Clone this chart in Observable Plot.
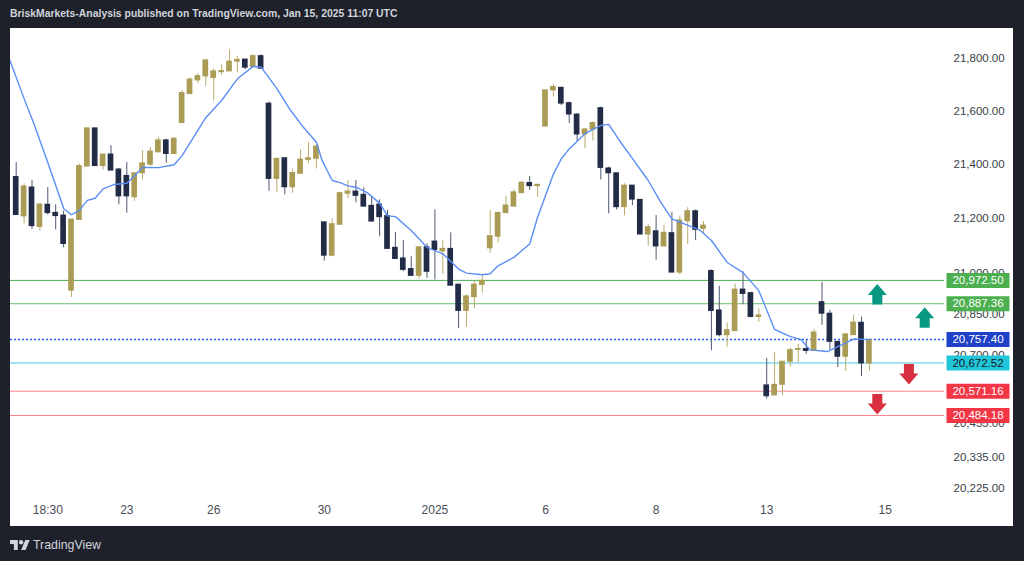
<!DOCTYPE html>
<html><head><meta charset="utf-8">
<script src="https://cdn.jsdelivr.net/npm/d3@7"></script>
<script src="https://cdn.jsdelivr.net/npm/@observablehq/plot@0.6"></script>
<style>
html,body{margin:0;padding:0;background:#1e212a;width:1024px;height:561px;overflow:hidden;font-family:"Liberation Sans",Arial,sans-serif}
#header{position:absolute;left:10px;top:6px;color:#d1d4dc;font-size:12px;font-weight:bold;white-space:nowrap;line-height:16px}
#panel{position:absolute;left:10px;top:28px;width:1003px;height:498px;background:#fff;}
#footer{position:absolute;left:10px;top:537px;height:16px;display:flex;align-items:center;color:#d1d4dc;font-size:14px;white-space:nowrap}
#footer svg{margin-right:3px}
</style></head><body>
<div id="header">BriskMarkets-Analysis published on TradingView.com, Jan 15, 2025 11:07 UTC</div>
<div id="panel"></div>
<div id="footer"><svg width="20" height="10" viewBox="0 4 36 18"><path fill="#d1d4dc" d="M14 22H7V11H0V4h14v18zM28 22h-8l7.5-18h8L28 22z"/><circle fill="#d1d4dc" cx="20" cy="8" r="4"/></svg><span id="tvtext">TradingView</span></div>
<script>
// ---- data ----
const opens = [21354,21208,21315,21169,21251,21221,21211,20935,21195,21393,21536,21395,21438,21382,21358,21279,21368,21400,21446,21491,21440,21556,21665,21717,21732,21726,21748,21751,21788,21796,21767,21809,21629,21347,21424,21316,21366,21418,21422,21186,21063,21177,21292,21300,21288,21247,21252,21209,21092,21053,21014,20989,21094,21115,21079,21088,20957,20861,20911,20956,21090,21133,21220,21244,21294,21332,21320,21543,21679,21689,21631,21588,21513,21531,21612,21386,21368,21242,21322,21269,21141,21153,21097,21146,21001,21190,21227,21162,21007,20863,20773,20788,20939,20926,20839,20592,20556,20594,20677,20720,20723,20716,20893,20851,20749,20695,20773,20818,20671];
const highs = [21408,21329,21341,21254,21315,21251,21227,21197,21403,21536,21536,21438,21471,21386,21408,21370,21453,21463,21503,21495,21501,21679,21727,21742,21793,21761,21776,21833,21808,21796,21814,21814,21635,21422,21426,21384,21455,21484,21484,21186,21199,21297,21341,21341,21314,21279,21269,21230,21149,21119,21059,21096,21106,21232,21119,21147,20957,20920,20971,20989,21230,21221,21282,21306,21338,21356,21325,21679,21701,21689,21635,21591,21535,21560,21616,21390,21368,21329,21322,21269,21178,21211,21174,21223,21209,21240,21232,21189,21011,20951,20818,20959,21004,20929,20869,20689,20710,20677,20725,20740,20755,20794,20965,20863,20749,20779,20845,20839,20761];
const lows = [21213,21180,21160,21154,21213,21158,21092,20910,21195,21393,21395,21380,21378,21251,21220,21264,21344,21394,21446,21405,21440,21556,21665,21705,21694,21639,21736,21751,21746,21757,21767,21761,21301,21297,21288,21294,21366,21406,21384,21043,21059,21177,21273,21258,21244,21186,21133,21088,21051,21005,20989,20977,20980,20974,20995,20953,20797,20801,20869,20926,21072,21109,21220,21244,21294,21304,21279,21539,21654,21622,21554,21487,21459,21488,21343,21217,21232,21210,21248,21141,21097,21047,21097,21001,20993,21104,21119,21143,20717,20767,20729,20788,20884,20836,20819,20543,20556,20556,20657,20671,20704,20716,20809,20719,20656,20642,20773,20624,20642];
const closes = [21213,21319,21172,21252,21220,21209,21106,21196,21395,21536,21395,21438,21378,21282,21282,21368,21405,21449,21491,21440,21497,21669,21720,21733,21793,21751,21752,21788,21795,21765,21809,21761,21347,21422,21316,21369,21419,21424,21468,21063,21179,21294,21300,21284,21244,21189,21205,21088,21051,21011,20989,21094,21004,21084,21088,20953,20861,20914,20957,20971,21135,21221,21248,21297,21333,21320,21325,21679,21692,21629,21588,21513,21532,21556,21388,21368,21242,21322,21270,21141,21168,21097,21147,21001,21193,21227,21158,21174,20861,20773,20791,20939,20923,20839,20845,20553,20594,20677,20719,20723,20716,20783,20851,20749,20695,20776,20819,20671,20755];

const maIndex = [0,2,3.23,4.92,7.03,8,9,10,11,12,13.35,15,16,17,19,21,22,25,27,29,31,32,34,35.72,37.41,39,39.73,41,42,43,44,45.43,47,48,49,51,53,55,57,58,60,61,62,64,66,67,69,70,71,73,75,76,77.5,79.2,81,82.6,84,85.5,87.6,89,91,93,95,97,99,100.28,101.5,103.66,105,107,109];
const maValues = [21809,21648,21554,21415,21236,21214,21230,21267,21275,21310,21326,21331,21359,21390,21389,21400,21434,21576,21641,21723,21770,21767,21686,21604,21538,21484,21415,21341,21333,21321,21316,21296,21257,21210,21207,21156,21094,21070,21014,20999,20993,20997,21026,21057,21106,21205,21365,21422,21459,21516,21547,21551,21484,21415,21341,21260,21199,21181,21156,21119,21038,21001,20935,20794,20768,20758,20720,20714,20732,20759,20757];

const yTickValues = [21800,21600,21400,21200,21000,20850,20700,20455,20335,20225];
const xTickIndex = [5,15,26,40,54,68,82,96,111];
const xTickLabels = ["18:30","23","26","30","2025","6","8","13","15"];

const levelValues = [20972.50,20887.36,20757.40,20672.52,20571.16,20484.18];
const arrowIndex = [110,116,114,110];
const arrowPrices = [20921,20836,20633,20525];
const arrowDirections = ["up","up","down","down"];

// ---- styles ----
const GOLD = "#aa9b55", NAVY = "#232c47", GOLD_WICK = "#b9ac6c", NAVY_WICK = "#4f5873";
const levelLine = ["#4caf50","#66c46a","#2962ff","#3fcbe0","#f5838a","#f5838a"];
const levelBox  = ["#4caf50","#4caf50","#1e41c8","#22c6db","#f23645","#f23645"];
const levelText = ["#ffffff","#ffffff","#ffffff","#131722","#ffffff","#ffffff"];
const levelDotted = [false,false,true,false,false,false];

const candles = opens.map((o,k)=>({i:k+1, open:o, high:highs[k], low:lows[k], close:closes[k], up: closes[k] >= o}));
const ma = maIndex.map((i,k)=>({i, v: maValues[k]}));
const xTicks = xTickIndex.map((i,k)=>({i, label: xTickLabels[k], bold: xTickLabels[k] === "2025"}));
const levels = levelValues.map((p,k)=>({price:p, line:levelLine[k], box:levelBox[k], txt:levelText[k], dotted:levelDotted[k]}));
const arrows = arrowIndex.map((i,k)=>({i, price: arrowPrices[k], dir: arrowDirections[k]}));

const upArrow = {draw(ctx){ ctx.moveTo(0,-10.5); ctx.lineTo(9.5,0.5); ctx.lineTo(5,0.5); ctx.lineTo(5,10); ctx.lineTo(-5,10); ctx.lineTo(-5,0.5); ctx.lineTo(-9.5,0.5); ctx.closePath(); }};
const downArrow = {draw(ctx){ ctx.moveTo(0,10.5); ctx.lineTo(9.5,-0.5); ctx.lineTo(5,-0.5); ctx.lineTo(5,-10); ctx.lineTo(-5,-10); ctx.lineTo(-5,-0.5); ctx.lineTo(-9.5,-0.5); ctx.closePath(); }};
const boxSym = {draw(ctx){ ctx.rect(-31.5,-7.5,63,15); }};
const fmt = d3.format(",.2f");

const chart = Plot.plot({
  width: 1003, height: 498,
  marginLeft: 0, marginRight: 69, marginTop: 0, marginBottom: 26,
  x: {domain: [0.2785, 118.505], axis: null},
  y: {type: "log", domain: [20225, 21800], range: [460, 30], label: null},
  color: {type: "identity"},
  style: {fontFamily: "'Liberation Sans', Arial, sans-serif", fontSize: "12px", background: "#ffffff", overflow: "visible"},
  marks: [
    Plot.ruleY(levels.filter(d=>!d.dotted), {y: "price", stroke: "line", strokeWidth: 1}),
    Plot.ruleY(levels.filter(d=>d.dotted), {y: "price", stroke: "line", strokeWidth: 1.3, strokeDasharray: "2,2"}),
    Plot.ruleX(candles, {x: "i", y1: "low", y2: "high", stroke: d => d.up ? GOLD_WICK : NAVY_WICK, strokeWidth: 1}),
    Plot.rect(candles, {x1: d => d.i - 0.36, x2: d => d.i + 0.36, y1: "open", y2: "close", fill: d => d.up ? GOLD : NAVY, insetTop: -0.5, insetBottom: -0.5}),
    Plot.line(ma, {x: "i", y: "v", stroke: "#5b8ef5", strokeWidth: 1.4, clip: true}),
    Plot.dot(arrows.filter(d=>d.dir==="up"), {x: "i", y: "price", symbol: upArrow, r: 10, fill: "#089981"}),
    Plot.dot(arrows.filter(d=>d.dir==="down"), {x: "i", y: "price", symbol: downArrow, r: 10, fill: "#d8303e"}),
    Plot.axisY({ticks: yTickValues, anchor: "right", tickSize: 0, tickPadding: 9, tickFormat: fmt, fontSize: 11.5, fill: "#3b3e47", label: null}),
    Plot.dot(levels, {y: "price", frameAnchor: "right", dx: 33.5, symbol: boxSym, r: 10, fill: "box"}),
    Plot.text(levels, {y: "price", frameAnchor: "right", dx: 33.5, text: d => fmt(d.price), fill: "txt", fontSize: 11.5, textAnchor: "middle"}),
    Plot.text(xTicks, {x: "i", text: "label", frameAnchor: "bottom", dy: 13, fill: "#4a4d57", fontSize: 12, fontWeight: d => d.bold ? "bold" : "normal"})
  ]
});
document.getElementById("panel").appendChild(chart);

function fit(el, target){ const w = el.getBoundingClientRect().width; const fs = parseFloat(getComputedStyle(el).fontSize); el.style.fontSize = (fs*target/w).toFixed(2)+"px"; }
fit(document.getElementById("header"), 388);
fit(document.getElementById("tvtext"), 68);
</script>
</body></html>
